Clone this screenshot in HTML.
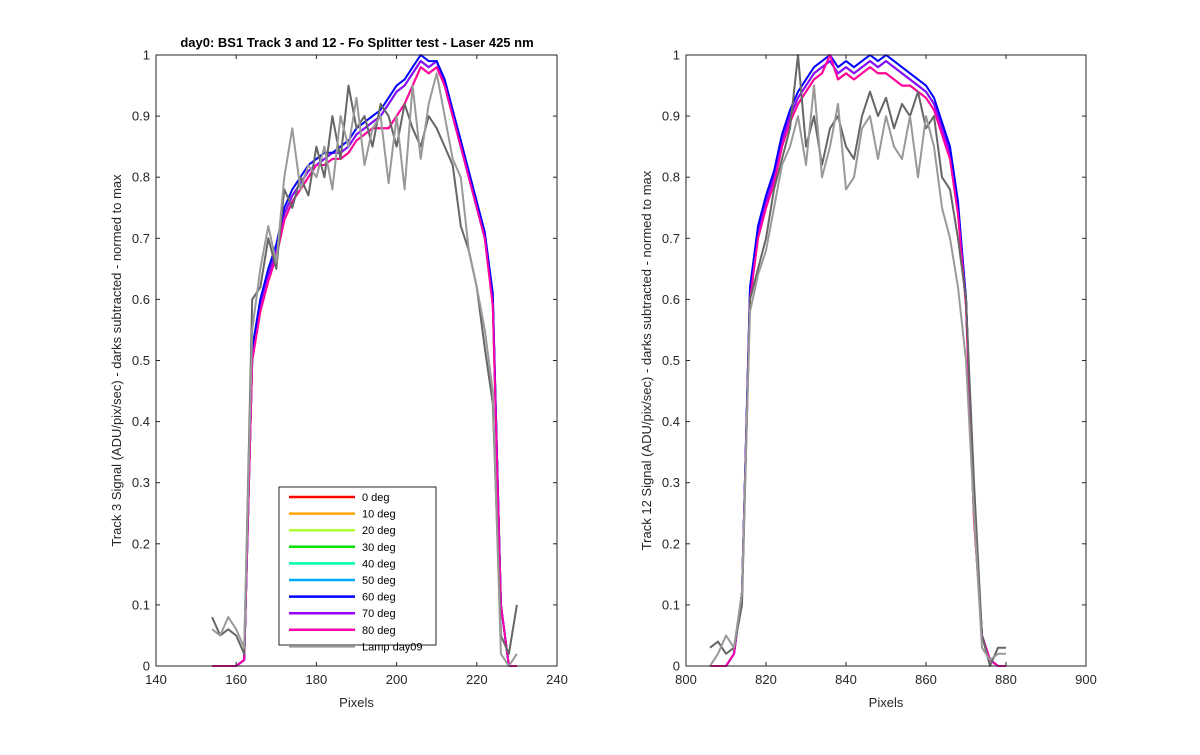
<!DOCTYPE html>
<html><head><meta charset="utf-8"><style>
body{margin:0;background:#fff;}
svg{font-family:"Liberation Sans",Arial,sans-serif;}
</style></head><body>
<svg id="c" width="1200" height="750" viewBox="0 0 1200 750"></svg>
<script>
const leftX=[154,156,158,160,162,164,166,168,170,172,174,176,178,180,182,184,186,188,190,192,194,196,198,200,202,204,206,208,210,212,214,216,218,220,222,224,226,228,230];
const leftBlue=[0,0,0,0,0.01,0.52,0.6,0.65,0.69,0.75,0.78,0.8,0.82,0.83,0.84,0.84,0.85,0.86,0.88,0.89,0.9,0.91,0.93,0.95,0.96,0.98,1.0,0.99,0.99,0.96,0.91,0.86,0.81,0.76,0.71,0.61,0.1,0,0];
const leftCyan=[0,0,0,0,0.01,0.5,0.59,0.64,0.68,0.74,0.77,0.79,0.81,0.82,0.83,0.84,0.84,0.85,0.87,0.88,0.89,0.9,0.92,0.94,0.95,0.97,0.99,0.98,0.99,0.95,0.9,0.85,0.8,0.75,0.7,0.6,0.1,0,0];
const leftMag=[0,0,0,0,0.01,0.5,0.58,0.63,0.67,0.73,0.76,0.78,0.8,0.82,0.82,0.83,0.83,0.84,0.86,0.87,0.88,0.88,0.88,0.9,0.92,0.95,0.98,0.97,0.98,0.95,0.9,0.85,0.8,0.75,0.7,0.59,0.1,0,0];
const leftDark=[0.08,0.05,0.06,0.05,0.02,0.6,0.62,0.7,0.65,0.78,0.75,0.8,0.77,0.85,0.8,0.9,0.83,0.95,0.88,0.9,0.85,0.92,0.9,0.85,0.92,0.88,0.85,0.9,0.88,0.85,0.82,0.72,0.68,0.62,0.52,0.43,0.05,0.02,0.1];
const leftLight=[0.06,0.05,0.08,0.06,0.03,0.55,0.65,0.72,0.66,0.8,0.88,0.78,0.82,0.8,0.85,0.78,0.9,0.85,0.93,0.82,0.88,0.9,0.79,0.9,0.78,0.95,0.83,0.92,0.97,0.9,0.83,0.8,0.68,0.62,0.55,0.45,0.02,0,0.02];
const rightX=[806,808,810,812,814,816,818,820,822,824,826,828,830,832,834,836,838,840,842,844,846,848,850,852,854,856,858,860,862,864,866,868,870,872,874,876,878,880];
const rightBlue=[0,0,0,0.02,0.12,0.62,0.72,0.77,0.81,0.87,0.91,0.94,0.96,0.98,0.99,1.0,0.98,0.99,0.98,0.99,1.0,0.99,1.0,0.99,0.98,0.97,0.96,0.95,0.93,0.89,0.85,0.76,0.6,0.25,0.05,0.01,0,0];
const rightCyan=[0,0,0,0.02,0.12,0.61,0.71,0.76,0.8,0.86,0.9,0.93,0.95,0.97,0.98,0.99,0.97,0.98,0.97,0.98,0.99,0.98,0.99,0.98,0.97,0.96,0.95,0.94,0.92,0.88,0.84,0.75,0.6,0.25,0.05,0.01,0,0];
const rightMag=[0,0,0,0.02,0.12,0.6,0.7,0.75,0.79,0.85,0.89,0.92,0.94,0.96,0.97,1.0,0.96,0.97,0.96,0.97,0.98,0.97,0.97,0.96,0.95,0.95,0.94,0.93,0.91,0.87,0.83,0.74,0.59,0.24,0.05,0.01,0,0];
const rightDark=[0.03,0.04,0.02,0.03,0.1,0.6,0.65,0.7,0.78,0.83,0.88,1.0,0.85,0.9,0.82,0.88,0.9,0.85,0.83,0.9,0.94,0.9,0.93,0.88,0.92,0.9,0.94,0.88,0.9,0.8,0.78,0.7,0.6,0.3,0.05,0,0.03,0.03];
const rightLight=[0,0.02,0.05,0.03,0.12,0.58,0.64,0.68,0.75,0.82,0.85,0.9,0.82,0.95,0.8,0.85,0.92,0.78,0.8,0.88,0.9,0.83,0.9,0.85,0.83,0.9,0.8,0.9,0.85,0.75,0.7,0.62,0.5,0.25,0.03,0.01,0.02,0.02];
const legendNames=["0 deg","10 deg","20 deg","30 deg","40 deg","50 deg","60 deg","70 deg","80 deg","Lamp day09"];
const legendColors=["#ff0000","#ffa500","#adff2f","#00e000","#00ffaa","#00aaff","#0000ff","#9900ff","#ff00aa","#999999"];
const yTicks=[0,0.1,0.2,0.3,0.4,0.5,0.6,0.7,0.8,0.9,1];
const leftXTicks=[140,160,180,200,220,240];
const rightXTicks=[800,820,840,860,880,900];

const svg=document.getElementById('c');
const NS='http://www.w3.org/2000/svg';
function mk(tag,attrs,parent){const e=document.createElementNS(NS,tag);for(const k in attrs)e.setAttribute(k,attrs[k]);(parent||svg).appendChild(e);return e;}
const Y0=666,Y1=55;
function sy(v){return Y0+(Y1-Y0)*v;}

function axes(px0,px1,xmin,xmax,xticks,prefix,ylabel,series){
  const g=mk('g',{});
  
  
  const sx=v=>px0+(px1-px0)*(v-xmin)/(xmax-xmin);
  mk('rect',{x:px0,y:Y1,width:px1-px0,height:Y0-Y1,fill:'#fff',stroke:'none'},g);
  series.forEach(s=>{
    const d=s.xs.map((x,i)=>(i?'L':'M')+sx(x).toFixed(1)+' '+sy(s.ys[i]).toFixed(1)).join(' ');
    const p=mk('path',{d:d,fill:'none',stroke:s.c,'stroke-width':2,'stroke-linejoin':'round'},g);
    
    
  });
  mk('rect',{x:px0,y:Y1,width:px1-px0,height:Y0-Y1,fill:'none',stroke:'#262626','stroke-width':1},g);
  xticks.forEach(t=>{
    const x=sx(t);
    mk('line',{x1:x,y1:Y0,x2:x,y2:Y0-4,stroke:'#262626'},g);
    mk('line',{x1:x,y1:Y1,x2:x,y2:Y1+4,stroke:'#262626'},g);
    const tx=mk('text',{x:x,y:Y0+18,'text-anchor':'middle','font-size':13,fill:'#262626'},g);
    tx.textContent=t;
    
    
  });
  yTicks.forEach(t=>{
    const y=sy(t);
    mk('line',{x1:px0,y1:y,x2:px0+4,y2:y,stroke:'#262626'},g);
    mk('line',{x1:px1,y1:y,x2:px1-4,y2:y,stroke:'#262626'},g);
    const tx=mk('text',{x:px0-6,y:y+4.5,'text-anchor':'end','font-size':13,fill:'#262626'},g);
    tx.textContent=t;
    
    
  });
  const xl=mk('text',{x:(px0+px1)/2,y:707,'text-anchor':'middle','font-size':13,fill:'#262626'},g);
  xl.textContent='Pixels';
  
  
  const yx=px0-35, yy=(Y0+Y1)/2;
  const yl=mk('text',{x:yx,y:yy,'text-anchor':'middle','font-size':13,fill:'#262626',transform:'rotate(-90 '+yx+' '+yy+')'},g);
  yl.textContent=ylabel;
  
  
  return sx;
}
function build(xs,blue,cyan,mag,dark,light){
  const ys=[mag,mag,cyan,cyan,cyan,cyan,blue,cyan,mag];
  const order=[0,1,2,3,4,5,7,6,8];
  const arr=order.map(i=>({xs:xs,ys:ys[i],c:legendColors[i],n:legendNames[i].replace(' ','-')}));
  arr.push({xs:xs,ys:dark,c:'#666666',n:'lamp-dark'});
  arr.push({xs:xs,ys:light,c:'#999999',n:'lamp-day09'});
  return arr;
}
axes(156,557,140,240,leftXTicks,'left','Track 3 Signal (ADU/pix/sec) - darks subtracted - normed to max',build(leftX,leftBlue,leftCyan,leftMag,leftDark,leftLight));
axes(686,1086,800,900,rightXTicks,'right','Track 12 Signal (ADU/pix/sec) - darks subtracted - normed to max',build(rightX,rightBlue,rightCyan,rightMag,rightDark,rightLight));

const title=mk('text',{x:357,y:47,'text-anchor':'middle','font-size':13,'font-weight':'bold',fill:'#000'});
title.textContent='day0: BS1  Track 3 and 12 - Fo Splitter test - Laser 425 nm';



const lg=mk('g',{});


mk('rect',{x:279,y:487,width:157,height:158,fill:'#fff',stroke:'#262626'},lg);
legendNames.forEach((n,i)=>{
  const y=497+i*16.6;
  const e=mk('g',{},lg);
  
  
  mk('line',{x1:289,y1:y,x2:355,y2:y,stroke:legendColors[i],'stroke-width':2.5},e);
  const t=mk('text',{x:362,y:y+4,'font-size':11,fill:'#000'},e);
  t.textContent=n;
});
</script>
</body></html>
